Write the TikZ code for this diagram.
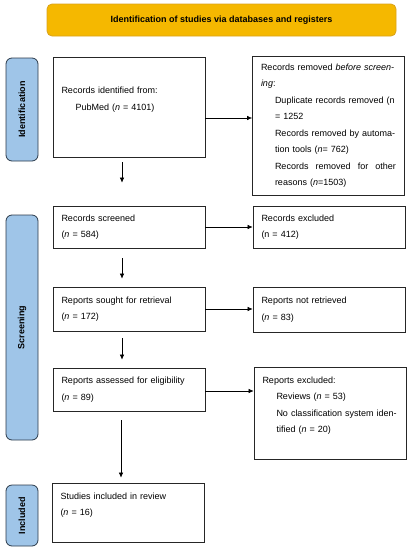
\documentclass[tikz,border=0pt]{standalone}
\usepackage{fontspec}
\setmainfont{Liberation Sans}
\usetikzlibrary{arrows.meta}
\definecolor{bannerfill}{HTML}{F5B800}
\definecolor{bannerline}{HTML}{D9A21B}
\definecolor{sidefill}{HTML}{9FC5E8}
\definecolor{sideline}{HTML}{2B3A4A}
\newcommand{\indnt}{\hspace*{14pt}}
\tikzset{
  box/.style={draw=black!85, line width=0.7pt, align=left, inner xsep=8.5pt, inner ysep=0pt,
    text width=135pt, font=\fontsize{9}{16.5}\selectfont},
  side/.style={draw=sideline, fill=sidefill, line width=0.8pt, rounded corners=6pt, rotate=90,
    minimum height=32pt, font=\bfseries\fontsize{9}{11}\selectfont},
  arr/.style={-{Latex[length=5pt,width=4.5pt]}, line width=0.6pt}
}
\begin{document}
\begin{tikzpicture}[x=1pt,y=-1pt]
    \useasboundingbox (0,0) rectangle (412,550);
    \node[draw=bannerline, fill=bannerfill, line width=0.8pt, rounded corners=5pt, minimum width=349pt,
      minimum height=32pt, font=\bfseries\fontsize{9}{11}\selectfont] (banner) at (221.5,20)
      {Identification of studies via databases and registers};
    \node[side, minimum width=103pt] (sideid) at (22,109.5) {Identification};
    \node[side, minimum width=225pt] (sidescr) at (22,327.5) {Screening};
    \node[side, minimum width=61pt] (sideinc) at (22,515.5) {Included};
    \node[box, minimum height=100pt] (ident) at (129,107) {Records identified from:\\
      \indnt PubMed (\emph{n} = 4101)\\ \mbox{}};
    \node[box, minimum height=139pt] (removed) at (328.5,125.5) {Records removed \emph{before screen-}\\
      \emph{ing}:\\
      \indnt Duplicate records removed (n\\
      \indnt = 1252\\
      \indnt Records removed by automa-\\
      \indnt tion tools (\emph{n}= 762)\\
      \indnt Records\hfill removed\hfill for\hfill other\\
      \indnt reasons (\emph{n}=1503)};
    \node[box, minimum height=42pt] (screened) at (129,227) {Records screened\\(\emph{n} = 584)};
    \node[box, minimum height=42pt] (excluded) at (329,227) {Records excluded\\(n = 412)};
    \node[box, minimum height=44pt] (sought) at (129,309) {Reports sought for retrieval\\(\emph{n} = 172)};
    \node[box, minimum height=45pt] (notretr) at (329,309.5) {Reports not retrieved\\(\emph{n} = 83)};
    \node[box, minimum height=43pt] (assessed) at (129,389.5) {Reports assessed for eligibility\\(\emph{n} = 89)};
    \node[box, minimum height=92pt] (repexcl) at (330,413) {Reports excluded:\\
      \indnt Reviews (\emph{n} = 53)\\
      \indnt No classification system iden-\\
      \indnt tified (\emph{n} = 20)\\ \mbox{}};
    \node[box, minimum height=59pt] (included) at (128,512.5) {Studies included in review\\
      (\emph{n} = 16)\\ \mbox{}};
    \coordinate (identout) at ([yshift=-11pt]ident.east);
    \draw[arr] (identout) -- (identout -| removed.west);
    \draw[arr] (screened.east) -- (screened.east -| excluded.west);
    \draw[arr] (sought.east) -- (sought.east -| notretr.west);
    \draw[arr] ([yshift=-1.5pt]assessed.east) -- ([yshift=-1.5pt]assessed.east -| repexcl.west);
    \draw[arr] ([xshift=-7pt,yshift=-5pt]ident.south) -- ([xshift=-7pt,yshift=23pt]screened.north);
    \draw[arr] ([xshift=-7pt,yshift=-10pt]screened.south) -- ([xshift=-7pt,yshift=8pt]sought.north);
    \draw[arr] ([xshift=-7pt,yshift=-7pt]sought.south) -- ([xshift=-7pt,yshift=8pt]assessed.north);
    \draw[arr] ([xshift=-8pt,yshift=-9pt]assessed.south) -- ([xshift=-7pt,yshift=5pt]included.north);
\end{tikzpicture}
\end{document}
